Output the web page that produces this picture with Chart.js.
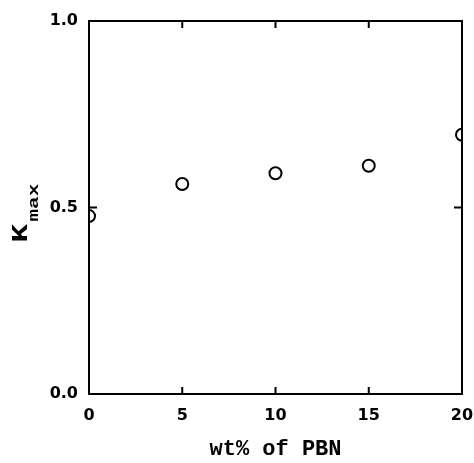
<!DOCTYPE html>
<html>
<head>
<meta charset="utf-8">
<script src="https://cdn.jsdelivr.net/npm/chart.js@4"></script>
<style>
    html, body { margin: 0; padding: 0; background: #fff; }
    #wrap { width: 474px; height: 463px; }
</style>
</head>
<body>
<div id="wrap"><canvas id="kmax-chart" width="474" height="463"></canvas></div>
<script>
// ---- データ ----
const pbnWt = [0, 5, 10, 15, 20];
const kMax = [0.477, 0.563, 0.592, 0.612, 0.695];
const xTicks = [0, 5, 10, 15, 20];
const yTicks = [0.0, 0.5, 1.0];

const MONO = "'Liberation Mono', 'DejaVu Sans Mono', monospace";
const SANS = "'DejaVu Sans', 'Liberation Sans', sans-serif";

// 枠と内向きの目盛り
const frameTicks = {
    id: 'frameTicks',
    afterDatasetsDraw(chart) {
        const { ctx, chartArea: a, scales } = chart;
        ctx.save();
        ctx.strokeStyle = '#000';
        ctx.lineWidth = 2;
        ctx.strokeRect(a.left, a.top, a.right - a.left, a.bottom - a.top);
        ctx.beginPath();
        xTicks.slice(1, -1).forEach(v => {
            const x = scales.x.getPixelForValue(v);
            ctx.moveTo(x, a.bottom); ctx.lineTo(x, a.bottom - 7);
            ctx.moveTo(x, a.top); ctx.lineTo(x, a.top + 7);
        });
        yTicks.slice(1, -1).forEach(v => {
            const y = scales.y.getPixelForValue(v);
            ctx.moveTo(a.left, y); ctx.lineTo(a.left + 8, y);
            ctx.moveTo(a.right, y); ctx.lineTo(a.right - 8, y);
        });
        ctx.stroke();

        // y軸タイトル K_max（下付き）
        const cy = (a.top + a.bottom) / 2;
        ctx.translate(27, cy + 35);
        ctx.rotate(-Math.PI / 2);
        ctx.fillStyle = '#000';
        ctx.textBaseline = 'alphabetic';
        ctx.textAlign = 'left';
        ctx.save();
        ctx.scale(1.4, 1);
        ctx.font = `bold 22px ${MONO}`;
        ctx.fillText('K', 0, 0);
        ctx.restore();
        ctx.translate(21, 11);
        ctx.scale(1.5, 1);
        ctx.font = `bold 14px ${MONO}`;
        ctx.fillText('max', 0, 0);
        ctx.restore();
    }
};

new Chart(document.getElementById('kmax-chart'), {
    type: 'scatter',
    data: {
        datasets: [{
            data: pbnWt.map((x, i) => ({ x, y: kMax[i] })),
            pointStyle: 'circle',
            pointRadius: 6,
            pointBorderWidth: 2,
            pointBorderColor: '#000',
            pointBackgroundColor: 'rgba(0,0,0,0)',
        }],
    },
    options: {
        responsive: false,
        animation: false,
        layout: { padding: { top: 21, right: 12, left: 0, bottom: 0 } },
        plugins: {
            legend: { display: false },
            tooltip: { enabled: false },
        },
        scales: {
            x: {
                type: 'linear',
                min: 0,
                max: 20,
                afterBuildTicks: s => { s.ticks = xTicks.map(v => ({ value: v })); },
                afterFit: s => { s.height = 69; s.paddingLeft = 0; s.paddingRight = 0; },
                border: { display: false },
                grid: { display: false, drawTicks: false },
                ticks: {
                    padding: 12,
                    color: '#000',
                    font: { family: SANS, size: 16, weight: 'bold' },
                },
                title: {
                    display: true,
                    text: 'wt% of PBN',
                    color: '#000',
                    font: { family: MONO, size: 22, weight: 'bold' },
                    padding: { top: 12, bottom: 0 },
                },
            },
            y: {
                type: 'linear',
                min: 0,
                max: 1,
                afterBuildTicks: s => { s.ticks = yTicks.map(v => ({ value: v })); },
                afterFit: s => { s.width = 89; },
                border: { display: false },
                grid: { display: false, drawTicks: false },
                ticks: {
                    padding: 11,
                    color: '#000',
                    font: { family: SANS, size: 16, weight: 'bold' },
                    callback: v => v.toFixed(1),
                },
            },
        },
    },
    plugins: [frameTicks],
});
</script>
</body>
</html>
